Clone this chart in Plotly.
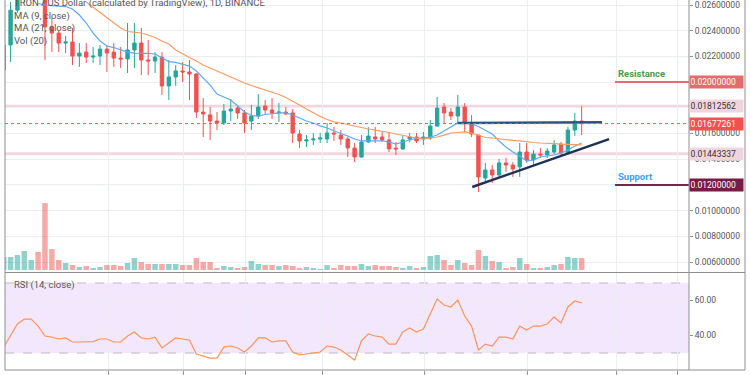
import plotly.graph_objects as go

# ---------------- data ----------------
idx = list(range(85))
opens = [0.02094, 0.02289, 0.02560, 0.02660, 0.02720, 0.02780, 0.02700, 0.02429, 0.02382, 0.02304,
         0.02312, 0.02203, 0.02234, 0.02195, 0.02203, 0.02257, 0.02234, 0.02187, 0.02180, 0.02250,
         0.02304, 0.02172, 0.02164, 0.02195, 0.01970, 0.02040, 0.02087, 0.02079, 0.02063, 0.01767,
         0.01745, 0.01697, 0.01682, 0.01775, 0.01798, 0.01760, 0.01697, 0.01736, 0.01814, 0.01783,
         0.01760, 0.01767, 0.01760, 0.01596, 0.01542, 0.01550, 0.01557, 0.01557, 0.01604, 0.01588,
         0.01557, 0.01487, 0.01417, 0.01534, 0.01573, 0.01573, 0.01550, 0.01487, 0.01480, 0.01557,
         0.01573, 0.01557, 0.01565, 0.01658, 0.01806, 0.01767, 0.01736, 0.01806, 0.01682, 0.01588,
         0.01254, 0.01316, 0.01277, 0.01371, 0.01355, 0.01340, 0.01456, 0.01394, 0.01440, 0.01433,
         0.01456, 0.01518, 0.01448, 0.01627, 0.01697]
highs = [0.02304, 0.02623, 0.02700, 0.02760, 0.02820, 0.02800, 0.02720, 0.02499, 0.02398, 0.02359,
         0.02421, 0.02304, 0.02304, 0.02273, 0.02289, 0.02289, 0.02304, 0.02273, 0.02460, 0.02460,
         0.02421, 0.02328, 0.02234, 0.02234, 0.02172, 0.02133, 0.02156, 0.02172, 0.02070, 0.01876,
         0.01806, 0.01767, 0.01830, 0.01868, 0.01822, 0.01783, 0.01822, 0.01907, 0.01861, 0.01876,
         0.01837, 0.01806, 0.01790, 0.01627, 0.01588, 0.01604, 0.01604, 0.01682, 0.01651, 0.01627,
         0.01573, 0.01526, 0.01588, 0.01651, 0.01651, 0.01612, 0.01612, 0.01534, 0.01580, 0.01604,
         0.01604, 0.01612, 0.01705, 0.01884, 0.01837, 0.01798, 0.01900, 0.01837, 0.01744, 0.01590,
         0.01371, 0.01355, 0.01402, 0.01410, 0.01378, 0.01526, 0.01526, 0.01472, 0.01487, 0.01487,
         0.01550, 0.01534, 0.01651, 0.01760, 0.01812562]
lows = [0.02079, 0.02156, 0.02540, 0.02620, 0.02680, 0.02660, 0.02172, 0.02234, 0.02234, 0.02226,
        0.02133, 0.02118, 0.02149, 0.02149, 0.02133, 0.02079, 0.02118, 0.02110, 0.02071, 0.02110,
        0.02055, 0.02055, 0.02071, 0.01900, 0.01861, 0.01970, 0.02001, 0.01861, 0.01721, 0.01573,
        0.01550, 0.01627, 0.01666, 0.01697, 0.01713, 0.01604, 0.01627, 0.01713, 0.01744, 0.01713,
        0.01690, 0.01744, 0.01526, 0.01487, 0.01495, 0.01511, 0.01526, 0.01526, 0.01542, 0.01511,
        0.01417, 0.01378, 0.01410, 0.01526, 0.01526, 0.01534, 0.01456, 0.01433, 0.01472, 0.01534,
        0.01526, 0.01511, 0.01550, 0.01651, 0.01682, 0.01705, 0.01682, 0.01612, 0.01573, 0.01145,
        0.01223, 0.01215, 0.01262, 0.01300, 0.01262, 0.01262, 0.01371, 0.01355, 0.01409, 0.01409,
        0.01440, 0.01433, 0.01440, 0.01580, 0.01588]
closes = [0.02289, 0.02560, 0.02660, 0.02720, 0.02780, 0.02700, 0.02429, 0.02382, 0.02304, 0.02312,
          0.02203, 0.02226, 0.02195, 0.02203, 0.02257, 0.02226, 0.02187, 0.02180, 0.02250, 0.02304,
          0.02172, 0.02164, 0.02195, 0.01970, 0.02040, 0.02087, 0.02079, 0.02063, 0.01767, 0.01752,
          0.01697, 0.01682, 0.01775, 0.01790, 0.01760, 0.01682, 0.01736, 0.01806, 0.01783, 0.01760,
          0.01767, 0.01752, 0.01604, 0.01542, 0.01550, 0.01557, 0.01565, 0.01604, 0.01596, 0.01557,
          0.01487, 0.01417, 0.01534, 0.01580, 0.01557, 0.01550, 0.01480, 0.01480, 0.01550, 0.01573,
          0.01542, 0.01573, 0.01658, 0.01798, 0.01760, 0.01736, 0.01806, 0.01682, 0.01596, 0.01262,
          0.01316, 0.01277, 0.01371, 0.01355, 0.01324, 0.01456, 0.01394, 0.01440, 0.01433, 0.01464,
          0.01511, 0.01448, 0.01627, 0.01697, 0.01677261]
volumes = [260, 260, 300, 380, 200, 360, 1340, 420, 200, 140,
           100, 60, 80, 40, 60, 100, 100, 80, 140, 240,
           160, 120, 120, 120, 120, 120, 100, 100, 240, 160,
           160, 40, 80, 60, 40, 60, 180, 120, 100, 100,
           80, 100, 80, 40, 60, 40, 20, 100, 40, 100,
           80, 80, 120, 80, 100, 80, 80, 60, 40, 80,
           40, 60, 280, 300, 200, 100, 200, 140, 100, 400,
           280, 180, 160, 40, 60, 240, 120, 40, 40, 60,
           100, 120, 260, 240, 240]
ma9 = [None, None, None, None, None, 0.02612, 0.02600, 0.02596, 0.02592, 0.02588,
       0.02569, 0.02522, 0.02460, 0.02382, 0.02320, 0.02281, 0.02269, 0.02250, 0.02234, 0.02226,
       0.02226, 0.02223, 0.02219, 0.02188, 0.02160, 0.02153, 0.02141, 0.02125, 0.02086, 0.02032,
       0.01977, 0.01907, 0.01884, 0.01861, 0.01814, 0.01767, 0.01740, 0.01736, 0.01748, 0.01756,
       0.01760, 0.01760, 0.01744, 0.01721, 0.01697, 0.01682, 0.01659, 0.01643, 0.01619, 0.01600,
       0.01581, 0.01557, 0.01542, 0.01542, 0.01542, 0.01542, 0.01534, 0.01518, 0.01534, 0.01550,
       0.01565, 0.01565, 0.01573, 0.01588, 0.01619, 0.01651, 0.01682, 0.01682, 0.01674, 0.01655,
       0.01627, 0.01596, 0.01542, 0.01495, 0.01456, 0.01425, 0.01386, 0.01394, 0.01417, 0.01425,
       0.01433, 0.01448, 0.01472, 0.01503, 0.01526]
ma21 = [None, None, None, None, None, None, None, None, None, None,
        None, None, 0.02623, 0.02584, 0.02538, 0.02499, 0.02460, 0.02421, 0.02394, 0.02386,
        0.02382, 0.02367, 0.02347, 0.02320, 0.02297, 0.02250, 0.02219, 0.02191, 0.02164, 0.02133,
        0.02110, 0.02086, 0.02063, 0.02040, 0.02016, 0.01993, 0.01974, 0.01958, 0.01942, 0.01923,
        0.01904, 0.01880, 0.01853, 0.01822, 0.01791, 0.01760, 0.01733, 0.01709, 0.01690, 0.01682,
        0.01670, 0.01655, 0.01643, 0.01635, 0.01627, 0.01619, 0.01608, 0.01596, 0.01585, 0.01573,
        0.01565, 0.01557, 0.01565, 0.01573, 0.01588, 0.01604, 0.01608, 0.01612, 0.01604, 0.01585,
        0.01569, 0.01565, 0.01557, 0.01550, 0.01546, 0.01542, 0.01534, 0.01530, 0.01526, 0.01526,
        0.01522, 0.01518, 0.01514, 0.01511, 0.01511]
rsi = [33.4, 40.3, 46.6, 49.4, 49.4, 45.4, 39.7, 39.1, 38.0, 38.6,
       36.3, 36.3, 36.3, 36.5, 38.0, 38.0, 36.3, 36.3, 39.7, 42.0,
       38.6, 38.0, 39.1, 32.9, 35.7, 38.6, 38.0, 37.4, 29.4, 28.3,
       27.1, 27.1, 33.4, 34.0, 32.9, 30.6, 34.0, 38.6, 38.6, 36.3,
       36.9, 36.9, 30.6, 28.9, 29.4, 30.0, 30.6, 34.0, 33.4, 31.7,
       28.9, 26.0, 36.9, 40.9, 39.7, 39.1, 35.1, 35.1, 42.0, 44.3,
       42.0, 43.7, 52.3, 60.9, 57.4, 56.3, 60.3, 51.1, 45.4, 31.7,
       35.1, 34.0, 39.1, 39.1, 38.0, 45.4, 43.1, 45.4, 45.4, 46.6,
       50.6, 47.1, 56.3, 59.7, 58.6]

time_grid = [15.2, 26.2, 35.2, 46.3, 61.2, 76.2, 89.1, 98.0]
# price tick labels that are not covered by the marker boxes
price_ticks = [0.026, 0.024, 0.022, 0.016, 0.014, 0.010, 0.008, 0.006]
rsi_ticks = [40, 60]
last_price = 0.01677261
level_lines = [0.01812562, 0.01443337]
resistance = 0.02
support = 0.012
zone_start = 88.85
upper_trend_x = [66.0, 86.96]
upper_trend_y = [0.016817, 0.016872]
lower_trend_x = [68.1, 87.98]
lower_trend_y = [0.011837, 0.015572]
rsi_band = [30, 70]

# ---------------- styling ----------------
UP = '#26a69a'
DOWN = '#ef5350'
GRID = '#e9eef3'
AXIS = '#8f8f8f'
TXT = '#555555'
FONT = 'Roboto'

vol_colors = ['rgba(38,166,154,0.5)' if c >= o else 'rgba(239,83,80,0.5)'
              for o, c in zip(opens, closes)]

fig = go.Figure()

fig.add_trace(go.Bar(x=idx, y=volumes, marker=dict(color=vol_colors, line=dict(width=0)),
                     xaxis='x', yaxis='y3', hoverinfo='skip'))
fig.add_trace(go.Candlestick(x=idx, open=opens, high=highs, low=lows, close=closes,
                             increasing=dict(line=dict(color=UP, width=1), fillcolor=UP),
                             decreasing=dict(line=dict(color=DOWN, width=1), fillcolor=DOWN),
                             whiskerwidth=0, xaxis='x', yaxis='y', hoverinfo='skip'))
fig.add_trace(go.Scatter(x=idx, y=ma9, mode='lines', line=dict(color='#5fa9ef', width=1.2),
                         xaxis='x', yaxis='y', hoverinfo='skip'))
fig.add_trace(go.Scatter(x=idx, y=ma21, mode='lines', line=dict(color='#f59b62', width=1.2),
                         xaxis='x', yaxis='y', hoverinfo='skip'))
fig.add_trace(go.Scatter(x=upper_trend_x, y=upper_trend_y, mode='lines',
                         line=dict(color='#2a5387', width=2.4), xaxis='x', yaxis='y'))
fig.add_trace(go.Scatter(x=lower_trend_x, y=lower_trend_y, mode='lines',
                         line=dict(color='#1f3254', width=2.4), xaxis='x', yaxis='y'))
fig.add_trace(go.Scatter(x=idx, y=rsi, mode='lines', line=dict(color='#f7955c', width=1.2),
                         xaxis='x2', yaxis='y2', hoverinfo='skip'))

shapes = []
shapes.append(dict(type='rect', xref='x2 domain', yref='y2', x0=0, x1=1,
                   y0=rsi_band[0], y1=rsi_band[1], fillcolor='#f3e7fd', line=dict(width=0),
                   layer='below'))
for v in rsi_band:
    shapes.append(dict(type='line', xref='x2 domain', yref='y2', x0=0, x1=1, y0=v, y1=v,
                       line=dict(color='#bdb8c4', width=1, dash='dash'), layer='below'))
for v in level_lines:
    shapes.append(dict(type='line', xref='x domain', yref='y', x0=0, x1=1, y0=v, y1=v,
                       line=dict(color='#f3d6df', width=3), layer='below'))
shapes.append(dict(type='line', xref='x domain', yref='y', x0=0, x1=1, y0=last_price, y1=last_price,
                   line=dict(color=DOWN, width=1, dash='dot')))
shapes.append(dict(type='line', xref='x', yref='y', x0=zone_start, x1=99.6, y0=resistance, y1=resistance,
                   line=dict(color='#e06c6c', width=2)))
shapes.append(dict(type='line', xref='x', yref='y', x0=zone_start, x1=99.6, y0=support, y1=support,
                   line=dict(color='#7b2348', width=2)))
XR = 1.0819
sep = (370 - 272.5) / 370
for y0 in [0, sep]:
    shapes.append(dict(type='line', xref='paper', yref='paper', x0=0, x1=XR, y0=y0, y1=y0,
                       line=dict(color=AXIS, width=1)))
for x0 in [0, 1, XR]:
    shapes.append(dict(type='line', xref='paper', yref='paper', x0=x0, x1=x0, y0=0, y1=1.02,
                       line=dict(color=AXIS, width=1)))

annotations = []
legend_rows = [("TRON / US Dollar (calculated by TradingView), 1D, BINANCE", 3),
               ("MA (9, close)", 16), ("MA (21, close)", 28.5), ("Vol (20)", 41),
               ("RSI (14, close)", 285)]
for t, py in legend_rows:
    annotations.append(dict(text=t, xref='paper', yref='paper', x=(12 - 5) / 684,
                            y=(370 - py) / 370, xanchor='left', yanchor='middle', showarrow=False,
                            font=dict(family=FONT, size=9.5, color=TXT)))

price_boxes = [(resistance, '#e26d6d', 'white'), (level_lines[0], '#f1d5de', '#333333'),
               (last_price, DOWN, 'white'), (level_lines[1], '#f1d5de', '#333333'),
               (support, '#7a1a47', 'white')]
for v, bg, fc in price_boxes:
    annotations.append(dict(text='%.8f' % v, xref='paper', yref='y', x=1, y=v,
                            xanchor='left', yanchor='middle', showarrow=False, align='left',
                            bgcolor=bg, width=52, height=11, borderpad=0.5,
                            font=dict(family=FONT, size=8.5, color=fc)))
annotations.append(dict(text='<b>Resistance</b>', xref='x', yref='y', x=zone_start + 0.2,
                        y=resistance, xanchor='left', yanchor='bottom', yshift=1, showarrow=False,
                        font=dict(family=FONT, size=9.5, color='#4a9a4c')))
annotations.append(dict(text='<b>Support</b>', xref='x', yref='y', x=zone_start + 0.2,
                        y=support, xanchor='left', yanchor='bottom', yshift=1, showarrow=False,
                        font=dict(family=FONT, size=9.5, color='#3ea0f2')))

xcommon = dict(range=[0.19, 99.6], tickvals=time_grid, showticklabels=False, showgrid=True,
               gridcolor=GRID, gridwidth=1, zeroline=False, fixedrange=True, automargin=False)
fig.update_layout(
    width=750, height=375,
    margin=dict(l=5, r=61, t=0, b=5, pad=0, autoexpand=False),
    paper_bgcolor='white', plot_bgcolor='white',
    showlegend=False, bargap=0.2,
    font=dict(family=FONT, size=8.5, color=TXT),
    xaxis=dict(domain=[0, 1], anchor='y', rangeslider=dict(visible=False), **xcommon),
    xaxis2=dict(domain=[0, 1], anchor='y2', matches='x', ticks='outside', ticklen=5,
                tickcolor=AXIS, **xcommon),
    yaxis=dict(domain=[(370 - 272) / 370, 1], range=[0.005222, 0.02639], side='right',
               tickvals=price_ticks, tickformat='.8f', ticks='outside', ticklen=3,
               tickcolor=AXIS, showgrid=True, gridcolor=GRID, zeroline=False, automargin=False,
               minor=dict(tick0=0, dtick=0.002, showgrid=True, gridcolor=GRID, ticks=''),
               ticklabeloverflow='allow', tickfont=dict(family=FONT, size=8.5, color=TXT)),
    yaxis2=dict(domain=[0, (370 - 273) / 370], range=[20.3, 75.7], side='right',
                tickvals=rsi_ticks, tickformat='.2f', ticks='outside', ticklen=3, automargin=False,
                tickcolor=AXIS, showgrid=True, gridcolor=GRID, zeroline=False,
                tickfont=dict(family=FONT, size=8.5, color=TXT)),
    yaxis3=dict(overlaying='y', range=[-40, 5400], visible=False, automargin=False),
    shapes=shapes, annotations=annotations,
)

fig.write_html("out.html", config={'displayModeBar': False, 'staticPlot': True},
               post_script="document.body.style.margin='0px';document.body.style.padding='0px';")
